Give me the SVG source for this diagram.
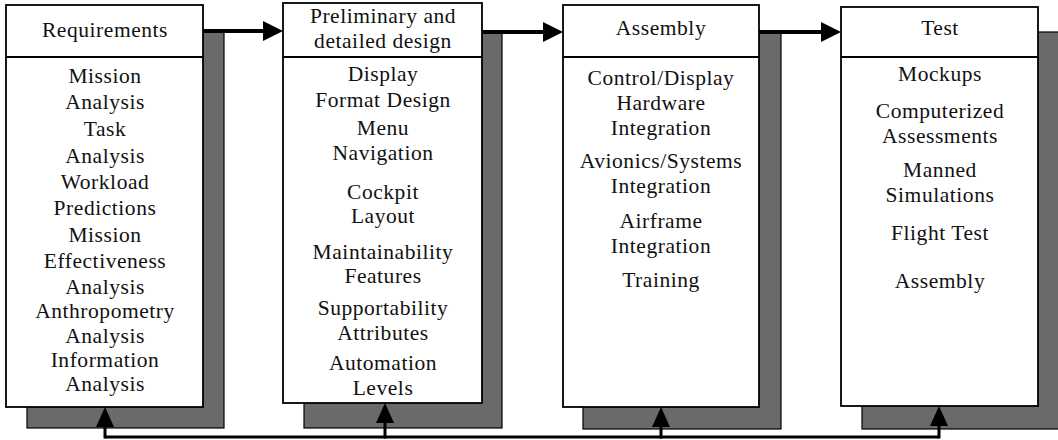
<svg xmlns="http://www.w3.org/2000/svg" width="1058" height="440" viewBox="0 0 1058 440">
<style>
.shadow{fill:#6a6a6a;stroke:#000;stroke-width:1.2}
.box{fill:#fff;stroke:#000;stroke-width:1.8}
.div{stroke:#000;stroke-width:1.8}
text{font-family:"Liberation Serif","Times New Roman",serif;font-size:21.5px;letter-spacing:0.55px;fill:#111;text-anchor:middle}
.flow{stroke:#000;stroke-width:4;fill:none}
.fb{stroke:#000;stroke-width:3;fill:none}
</style>
<defs>
<marker id="ah" markerUnits="userSpaceOnUse" viewBox="0 0 20 20" markerWidth="20" markerHeight="20" refX="7" refY="10" orient="auto">
<path d="M0,0 L20,10 L0,20 z" fill="#000"/>
</marker>
<marker id="ahs" markerUnits="userSpaceOnUse" viewBox="0 0 20 18" markerWidth="20" markerHeight="18" refX="7" refY="9" orient="auto">
<path d="M0,0 L20,9 L0,18 z" fill="#000"/>
</marker>
</defs>

<g id="node-requirements">
<rect class="shadow" x="27" y="31" width="197" height="397"/>
<rect class="box" x="6" y="5" width="197" height="402"/>
<line class="div" x1="6" y1="57" x2="203" y2="57"/>
<text x="105" y="37">Requirements</text>
<text x="105" y="83">Mission</text>
<text x="105" y="109">Analysis</text>
<text x="105" y="136">Task</text>
<text x="105" y="163">Analysis</text>
<text x="105" y="189">Workload</text>
<text x="105" y="215">Predictions</text>
<text x="105" y="242">Mission</text>
<text x="105" y="268">Effectiveness</text>
<text x="105" y="294">Analysis</text>
<text x="105" y="318">Anthropometry</text>
<text x="105" y="343">Analysis</text>
<text x="105" y="367">Information</text>
<text x="105" y="391">Analysis</text>
</g>

<g id="node-design">
<rect class="shadow" x="304" y="32" width="198" height="396"/>
<rect class="box" x="283" y="3" width="199" height="400"/>
<line class="div" x1="283" y1="57" x2="482" y2="57"/>
<text x="383" y="23">Preliminary and</text>
<text x="383" y="48">detailed design</text>
<text x="383" y="81">Display</text>
<text x="383" y="107">Format Design</text>
<text x="383" y="135">Menu</text>
<text x="383" y="160">Navigation</text>
<text x="383" y="199">Cockpit</text>
<text x="383" y="223">Layout</text>
<text x="383" y="259">Maintainability</text>
<text x="383" y="283">Features</text>
<text x="383" y="315">Supportability</text>
<text x="383" y="340">Attributes</text>
<text x="383" y="370">Automation</text>
<text x="383" y="395">Levels</text>
</g>

<g id="node-assembly">
<rect class="shadow" x="583" y="32" width="198" height="397"/>
<rect class="box" x="563" y="5" width="196" height="402"/>
<line class="div" x1="563" y1="57" x2="759" y2="57"/>
<text x="661" y="35">Assembly</text>
<text x="661" y="85">Control/Display</text>
<text x="661" y="110">Hardware</text>
<text x="661" y="135">Integration</text>
<text x="661" y="168">Avionics/Systems</text>
<text x="661" y="193">Integration</text>
<text x="661" y="228">Airframe</text>
<text x="661" y="253">Integration</text>
<text x="661" y="287">Training</text>
</g>

<g id="node-test">
<rect class="shadow" x="862" y="32" width="198" height="397"/>
<rect class="box" x="841" y="7" width="197" height="399"/>
<line class="div" x1="841" y1="57" x2="1038" y2="57"/>
<text x="940" y="35">Test</text>
<text x="940" y="81">Mockups</text>
<text x="940" y="118">Computerized</text>
<text x="940" y="143">Assessments</text>
<text x="940" y="177">Manned</text>
<text x="940" y="202">Simulations</text>
<text x="940" y="240">Flight Test</text>
<text x="940" y="288">Assembly</text>
</g>

<g id="connectors">
<path class="flow" d="M203,31 H270" marker-end="url(#ah)"/>
<path class="flow" d="M482,32 H550" marker-end="url(#ah)"/>
<path class="flow" d="M759,32 H828" marker-end="url(#ah)"/>
<path class="fb" d="M105,437 H939"/>
<path class="fb" d="M105,438.5 V420" marker-end="url(#ahs)"/>
<path class="fb" d="M385,438.5 V416" marker-end="url(#ahs)"/>
<path class="fb" d="M661,438.5 V420" marker-end="url(#ahs)"/>
<path class="fb" d="M939,438.5 V419" marker-end="url(#ahs)"/>
</g>
</svg>
